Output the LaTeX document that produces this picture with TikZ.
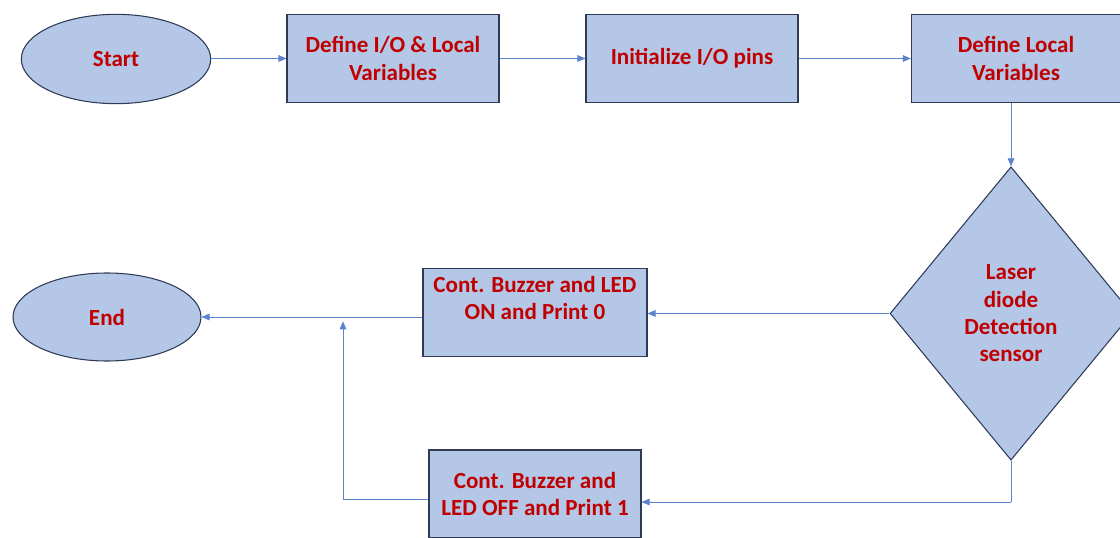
\documentclass[tikz,border=0pt]{standalone}
\usepackage{fontspec}
\setmainfont{Carlito}
\usetikzlibrary{shapes.geometric,arrows.meta}
\definecolor{boxfill}{HTML}{B4C7E7}
\definecolor{boxline}{HTML}{2F3B56}
\definecolor{txtred}{HTML}{C00000}
\definecolor{conn}{HTML}{5B84CF}
\tikzset{
  base/.style={draw=boxline, fill=boxfill, line width=0.8pt, text=txtred,
    font=\fontsize{17.3}{20.5}\selectfont\bfseries, align=center, inner sep=2pt},
  procbox/.style={base, rectangle, minimum width=159pt, minimum height=66pt},
  term/.style={base, ellipse, minimum width=142pt, minimum height=67pt},
  decision/.style={base, diamond, minimum width=181.5pt, minimum height=220pt},
  conn/.style={draw=conn, line width=0.6pt},
  arr/.style={conn, -{Triangle[length=6pt,width=5pt]}}
}
\begin{document}
\begin{tikzpicture}[x=0.75pt,y=-0.75pt]
\useasboundingbox (0,0) rectangle (1120,538);
\node[term] (start) at (116,59) {Start};
\node[procbox] (b1) at (393,58.5) {Define I/O \& Local\\Variables};
\node[procbox] (b2) at (692,58.5) {Initialize I/O pins};
\node[procbox, minimum width=157pt] (b3) at (1016,58.5) {Define Local\\Variables};
\node[decision] (dia) at (1011,313.5) {Laser\\diode\\Detection\\sensor};
\node[procbox, minimum width=168pt, text depth=22pt] (b4) at (535,312.5) {Cont. Buzzer and LED\\ON and Print 0};
\node[procbox] (b5) at (535,494) {Cont. Buzzer and\\LED OFF and Print 1};
\node[term, minimum width=141pt, minimum height=66pt] (end) at (107,317) {End};

\coordinate (c1) at (1011,502);
\coordinate (c2) at (343,499);
\coordinate (c3) at (343,316);

\draw[arr] (start.east |- b1.west) -- (b1.west);
\draw[arr] (b1.east) -- (b2.west);
\draw[arr] (b2.east) -- (b2.east -| b3.west);
\draw[arr] (dia.north |- b3.south) -- (dia.north);
\draw[arr] (dia.west) -- (dia.west -| b4.east);
\draw[arr] (b4.west |- end.east) -- (end.east);
\draw[conn] (dia.south) -- (c1);
\draw[arr] (c1) -- (c1 -| b5.east);
\draw[arr] (b5.west |- c2) -- (c2) -- ([yshift=-4pt]c3);
\end{tikzpicture}
\end{document}
